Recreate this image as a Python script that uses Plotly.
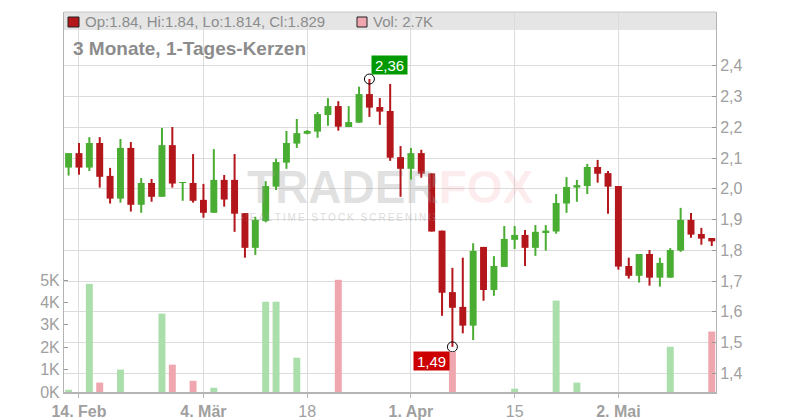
import plotly.graph_objects as go

# ---------------- data ----------------
dates = [
    "2025-02-13", "2025-02-14", "2025-02-17", "2025-02-18", "2025-02-19", "2025-02-20",
    "2025-02-21", "2025-02-24", "2025-02-25", "2025-02-26", "2025-02-27", "2025-02-28",
    "2025-03-03", "2025-03-04", "2025-03-05", "2025-03-06", "2025-03-07", "2025-03-10",
    "2025-03-11", "2025-03-12", "2025-03-13", "2025-03-14", "2025-03-17", "2025-03-18",
    "2025-03-19", "2025-03-20", "2025-03-21", "2025-03-24", "2025-03-25", "2025-03-26",
    "2025-03-27", "2025-03-28", "2025-03-31", "2025-04-01", "2025-04-02", "2025-04-03",
    "2025-04-04", "2025-04-07", "2025-04-08", "2025-04-09", "2025-04-10", "2025-04-11",
    "2025-04-14", "2025-04-15", "2025-04-16", "2025-04-17", "2025-04-22", "2025-04-23",
    "2025-04-24", "2025-04-25", "2025-04-28", "2025-04-29", "2025-04-30", "2025-05-02",
    "2025-05-05", "2025-05-06", "2025-05-07", "2025-05-08", "2025-05-09", "2025-05-12",
    "2025-05-13", "2025-05-14", "2025-05-15",
]

opens = [2.069, 2.116, 2.069, 2.149, 2.042, 1.968, 2.133, 1.948, 2.019, 1.974, 2.142, 2.019,
         2.019, 1.964, 1.922, 2.029, 2.029, 1.921, 1.808, 1.895, 2.007, 2.085, 2.147, 2.179,
         2.186, 2.240, 2.269, 2.201, 2.215, 2.308, 2.266, 2.253, 2.103, 2.065, 2.116, 2.050,
         1.864, 1.664, 1.616, 1.555, 1.811, 1.671, 1.746, 1.834, 1.850, 1.808, 1.859, 1.861,
         1.952, 2.004, 2.009, 2.071, 2.051, 2.009, 1.749, 1.717, 1.788, 1.711, 1.711, 1.799,
         1.899, 1.853, 1.84]
highs = [2.116, 2.149, 2.168, 2.168, 2.068, 2.162, 2.152, 2.035, 2.032, 2.198, 2.201, 2.022,
         2.113, 2.016, 2.129, 2.045, 2.113, 1.921, 1.909, 2.025, 2.098, 2.188, 2.227, 2.191,
         2.250, 2.295, 2.285, 2.269, 2.332, 2.357, 2.295, 2.341, 2.139, 2.133, 2.127, 2.050,
         1.864, 1.743, 1.776, 1.823, 1.811, 1.781, 1.879, 1.879, 1.866, 1.882, 1.882, 1.983,
         2.038, 2.029, 2.081, 2.094, 2.058, 2.009, 1.776, 1.788, 1.801, 1.776, 1.807, 1.938,
         1.921, 1.873, 1.84]
lows = [2.043, 2.046, 2.058, 2.004, 1.952, 1.955, 1.926, 1.922, 1.958, 1.974, 2.004, 1.961,
        1.955, 1.906, 1.922, 1.942, 1.860, 1.776, 1.785, 1.891, 1.996, 2.065, 2.133, 2.177,
        2.166, 2.205, 2.189, 2.201, 2.215, 2.234, 2.208, 2.091, 1.974, 2.030, 2.036, 1.861,
        1.587, 1.486, 1.530, 1.508, 1.636, 1.652, 1.746, 1.804, 1.749, 1.782, 1.799, 1.854,
        1.922, 1.958, 1.983, 2.020, 1.919, 1.737, 1.708, 1.695, 1.685, 1.682, 1.711, 1.795,
        1.841, 1.818, 1.814]
closes = [2.116, 2.069, 2.149, 2.039, 1.968, 2.133, 1.948, 2.019, 1.974, 2.142, 2.017, 2.021,
          1.961, 1.922, 2.029, 1.965, 1.919, 1.808, 1.899, 2.009, 2.087, 2.149, 2.181, 2.188,
          2.243, 2.269, 2.202, 2.217, 2.308, 2.264, 2.251, 2.101, 2.065, 2.116, 2.049, 1.861,
          1.662, 1.613, 1.555, 1.798, 1.671, 1.749, 1.837, 1.850, 1.808, 1.860, 1.864, 1.954,
          2.006, 2.012, 2.071, 2.049, 2.007, 1.747, 1.717, 1.788, 1.711, 1.759, 1.801, 1.899,
          1.851, 1.838, 1.829]
volumes = [100, 0, 4830, 420, 0, 1000, 0, 0, 0, 3500, 1220, 0,
           500, 0, 190, 0, 0, 0, 0, 4030, 4030, 0, 1530, 0,
           0, 0, 5010, 0, 0, 0, 0, 0, 0, 0, 0, 0,
           0, 1790, 0, 0, 0, 0, 0, 150, 0, 0, 0, 4080,
           0, 420, 0, 0, 0, 0, 0, 0, 0, 0, 2020, 0,
           0, 0, 2700]

tick_dates = ["2025-02-14", "2025-03-04", "2025-03-18", "2025-04-01", "2025-04-15", "2025-05-02"]
tick_text = ["<b>14. Feb</b>", "<b>4. Mär</b>", "18", "<b>1. Apr</b>", "15", "<b>2. Mai</b>"]
price_ticks = [1.4, 1.5, 1.6, 1.7, 1.8, 1.9, 2.0, 2.1, 2.2, 2.3, 2.4]
vol_ticks = [0, 1000, 2000, 3000, 4000, 5000]

# ---------------- styles ----------------
RED = "#b3161b"
GREEN = "#4aad33"
VRED = "#f0a6ae"
VGREEN = "#aadeaa"
GRID = "#dcdcdc"
AXIS = "#b4b4b4"
LABEL = "#a0a0a0"
TEXT = "#8c8c8c"
FONT = "Liberation Sans, Arial, sans-serif"

OFF = 8  # page body margin in the browser
W, H = 800 - OFF, 420 - OFF
ML, MR, MT, MB = 64 - OFF, 84, 12 - OFF, 28
PW, PH = W - ML - MR, H - MT - MB
PLOT_LEFT = OFF + ML
PLOT_BOTTOM = OFF + H - MB


def px_x(x):
    return (x - PLOT_LEFT) / PW


def px_y(y):
    return (PLOT_BOTTOM - y) / PH


up = [c >= o for o, c in zip(opens, closes)]
body_base = [min(o, c) for o, c in zip(opens, closes)]
body_len = [max(abs(c - o), 0.003) for o, c in zip(opens, closes)]
body_col = [GREEN if u else RED for u in up]

fig = go.Figure()

# watermark (drawn first so it stays behind the candles)
TS = "\u2009"
subtitle = (TS + " " + TS).join(TS.join(w) for w in ["REALTIME", "STOCK", "SCREENING"])
fig.add_trace(go.Scatter(
    x=[dates[31]], y=[1.99], mode="text",
    text=["<b>TRADER<span style='fill:rgba(245,110,125,0.38)'>FOX</span></b>"],
    textfont=dict(family=FONT, size=46, color="rgba(160,160,160,0.32)"),
    textposition="middle center", hoverinfo="skip"))
fig.add_trace(go.Scatter(
    x=[dates[26]], y=[1.902], mode="text",
    text=[subtitle],
    textfont=dict(family=FONT, size=10, color="rgba(160,160,160,0.4)"),
    textposition="middle center", hoverinfo="skip"))

# wicks
for colr, flag in ((GREEN, True), (RED, False)):
    wx, wy = [], []
    for d, hi, lo, u in zip(dates, highs, lows, up):
        if u == flag:
            wx += [d, d, None]
            wy += [lo, hi, None]
    fig.add_trace(go.Scatter(x=wx, y=wy, mode="lines", line=dict(color=colr, width=2),
                             hoverinfo="skip"))

# bodies
fig.add_trace(go.Bar(x=dates, y=body_len, base=body_base, width=0.67,
                     marker=dict(color=body_col, line=dict(width=0)), hoverinfo="skip"))

# high / low markers
imax = max(range(len(highs)), key=lambda i: highs[i])
imin = min(range(len(lows)), key=lambda i: lows[i])
fig.add_trace(go.Scatter(x=[dates[imax], dates[imin]], y=[highs[imax], lows[imin]],
                         mode="markers",
                         marker=dict(symbol="circle-open", size=10, color="#000000",
                                     line=dict(width=1)), hoverinfo="skip"))

# volume
vx = [d for d, v in zip(dates, volumes) if v > 0]
vy = [v for v in volumes if v > 0]
vc = [VGREEN if u else VRED for u, v in zip(up, volumes) if v > 0]
fig.add_trace(go.Bar(x=vx, y=vy, width=0.67, yaxis="y2",
                     marker=dict(color=vc, line=dict(width=0)), hoverinfo="skip"))

shapes = [
    dict(type="rect", xref="paper", yref="paper", x0=0, x1=1, y0=px_y(30), y1=1,
         fillcolor="#e5e5e5", line=dict(width=0), layer="below"),
    dict(type="line", xref="paper", yref="paper", x0=0, x1=1, y0=1, y1=1,
         line=dict(color="#c8c8c8", width=1)),
    dict(type="rect", xref="paper", yref="paper", x0=px_x(68), x1=px_x(79),
         y0=px_y(27), y1=px_y(17), fillcolor=RED, line=dict(color="#222222", width=1)),
    dict(type="rect", xref="paper", yref="paper", x0=px_x(357), x1=px_x(367),
         y0=px_y(27), y1=px_y(17), fillcolor=VRED, line=dict(color="#222222", width=1)),
]


def fmt(v):
    return f"{v:g}"


annotations = [
    dict(xref="paper", yref="paper", x=px_x(83), y=px_y(21.5), xanchor="left", yanchor="middle",
         showarrow=False,
         text=f"Op:{fmt(opens[-1])}, Hi:{fmt(highs[-1])}, Lo:{fmt(lows[-1])}, Cl:{fmt(closes[-1])}",
         font=dict(family=FONT, size=15, color=TEXT)),
    dict(xref="paper", yref="paper", x=px_x(371), y=px_y(21.5), xanchor="left", yanchor="middle",
         showarrow=False, text=f"Vol: {volumes[-1] / 1000:.1f}K",
         font=dict(family=FONT, size=15, color=TEXT)),
    dict(xref="paper", yref="paper", x=px_x(71), y=px_y(49), xanchor="left", yanchor="middle",
         showarrow=False, text="<b>3 Monate, 1-Tages-Kerzen</b>",
         font=dict(family=FONT, size=19, color=TEXT)),
    dict(x=dates[imax], y=highs[imax], xref="x", yref="y", xanchor="left", yanchor="bottom",
         xshift=2, yshift=4, showarrow=False, text=f"{highs[imax]:.2f}".replace(".", ","),
         bgcolor="#009a00", borderpad=0, width=35, height=18,
         font=dict(family=FONT, size=15, color="#ffffff")),
    dict(x=dates[imin], y=lows[imin], xref="x", yref="y", xanchor="right", yanchor="top",
         xshift=-2, yshift=-4, showarrow=False, text=f"{lows[imin]:.2f}".replace(".", ","),
         bgcolor="#cc0000", borderpad=0, width=35, height=18,
         font=dict(family=FONT, size=15, color="#ffffff")),
]

vol_top = PH / 22.4 * 1000
p_per_px = 0.1 / 30.75
p_bottom = 1.4 - (392 - 373.3) * p_per_px
p_top = p_bottom + PH * p_per_px

fig.update_layout(
    width=W, height=H, margin=dict(l=ML, r=MR, t=MT, b=MB, autoexpand=False),
    paper_bgcolor="white", plot_bgcolor="white",
    showlegend=False, barmode="overlay", hovermode=False,
    shapes=shapes, annotations=annotations,
    xaxis=dict(type="category", categoryorder="array", categoryarray=dates, automargin=False,
               range=[-0.443, 62.41], tickmode="array", tickvals=tick_dates, ticktext=tick_text,
               showgrid=True, gridcolor=GRID, gridwidth=1,
               ticks="outside", ticklen=4, tickcolor=AXIS,
               showline=True, linecolor=AXIS, linewidth=2,
               tickfont=dict(family=FONT, size=16, color=LABEL), zeroline=False),
    yaxis=dict(side="right", range=[p_bottom, p_top], tickmode="array", tickvals=price_ticks,
               ticktext=[f"{t:.1f}".replace(".", ",") for t in price_ticks], automargin=False,
               showgrid=True, gridcolor=GRID, gridwidth=1, zeroline=False,
               ticks="inside", ticklen=4, tickcolor="#999999",
               showline=True, linecolor=AXIS, linewidth=1,
               tickfont=dict(family=FONT, size=16, color=LABEL)),
    yaxis2=dict(overlaying="y", side="left", range=[0, vol_top], tickmode="array",
                tickvals=vol_ticks, ticktext=[f"{int(v / 1000)}K" for v in vol_ticks],
                automargin=False,
                showgrid=False, zeroline=False, ticks="inside", ticklen=4, tickcolor="#999999",
                showline=True, linecolor=AXIS, linewidth=1,
                tickfont=dict(family=FONT, size=16, color=LABEL)),
)

fig.write_html("out.html")
